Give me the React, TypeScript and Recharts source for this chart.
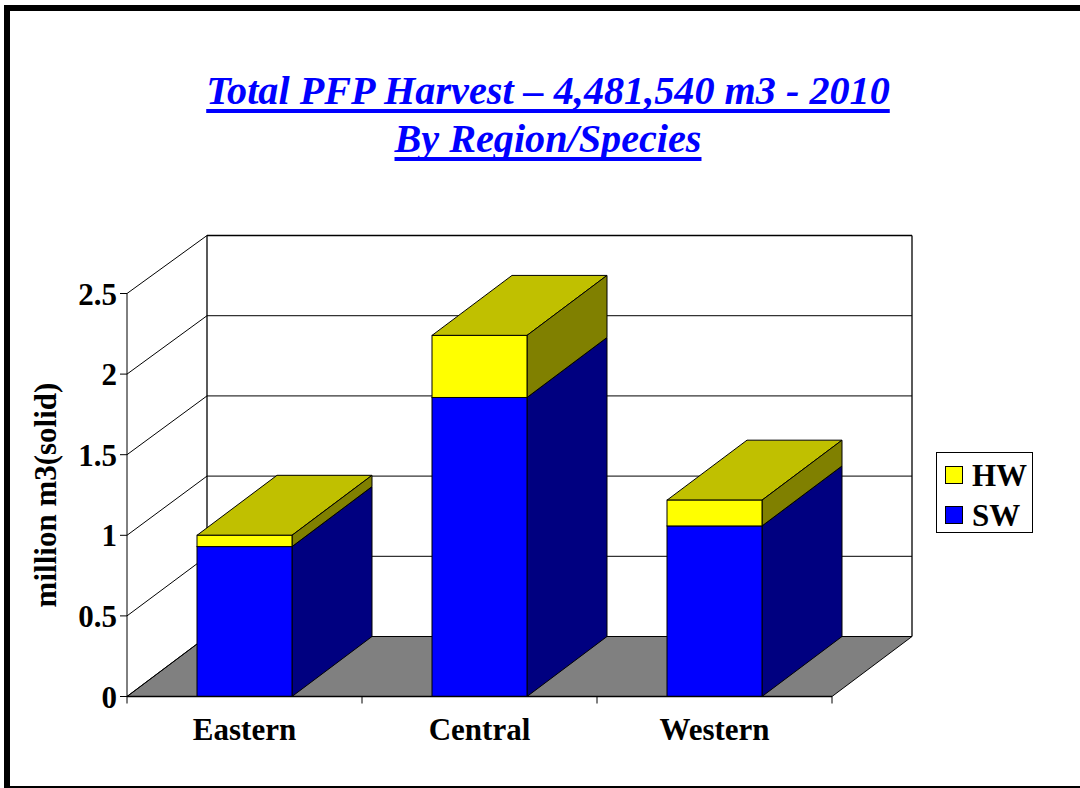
import React from "react";
import { BarChart, Bar, XAxis, YAxis, CartesianGrid, Legend } from "recharts";

const regions = ["Eastern", "Central", "Western"];
const swValues = [0.93, 1.855, 1.058];
const hwValues = [0.07, 0.385, 0.16];
const yTicks = [0, 0.5, 1, 1.5, 2, 2.5];

const data = regions.map((name, i) => ({ name, SW: swValues[i], HW: hwValues[i] }));

const FONT = "'Liberation Serif', 'Times New Roman', serif";
const DEPTH_X = 80;
const DEPTH_Y = 60;
const PLOT_TOP = 293.5;
const PLOT_BOTTOM = 696.5;
const BACK_SCALE = 0.995; // back wall is very slightly shorter than the front plane

// front + side + top faces of one stacked segment
function Box3D(props: any) {
  const { x, y, width: w, height: h, fill, sideFill, topFill } = props;
  const pts = (p: number[][]) => p.map((q) => q.join(",")).join(" ");
  return (
    <g stroke="#000" strokeWidth={1}>
      <polygon
        fill={topFill}
        points={pts([[x, y], [x + DEPTH_X, y - DEPTH_Y], [x + w + DEPTH_X, y - DEPTH_Y], [x + w, y]])}
      />
      <polygon
        fill={sideFill}
        points={pts([[x + w, y], [x + w + DEPTH_X, y - DEPTH_Y], [x + w + DEPTH_X, y + h - DEPTH_Y], [x + w, y + h]])}
      />
      <rect x={x} y={y} width={w} height={h} fill={fill} />
    </g>
  );
}

// each grid line becomes the wall line: oblique on the left wall, level on the back wall
function WallLine(props: any) {
  const { x1, x2, y1 } = props;
  const floorBack = PLOT_BOTTOM - DEPTH_Y;
  const backY = floorBack - (PLOT_BOTTOM - y1) * BACK_SCALE;
  const band = (x2 - x1) / regions.length;
  const isFloor = Math.abs(y1 - PLOT_BOTTOM) < 1;
  const isTop = Math.abs(y1 - PLOT_TOP) < 1;
  return (
    <g stroke="#000" strokeWidth={1} fill="none">
      {isFloor && (
        <>
          <polygon
            fill="#808080"
            points={`${x1},${y1} ${x1 + DEPTH_X},${backY} ${x2 + DEPTH_X},${backY} ${x2},${y1}`}
          />
          {regions.map((_, i) => (
            <line key={i} x1={x1 + band * (i + 1)} x2={x1 + band * (i + 1)} y1={y1} y2={y1 + 7} />
          ))}
          <line x1={x1} x2={x1} y1={y1} y2={y1 + 7} />
        </>
      )}
      <line x1={x1} y1={y1} x2={x1 + DEPTH_X} y2={backY} />
      <line x1={x1 + DEPTH_X} y1={backY} x2={x2 + DEPTH_X} y2={backY} strokeWidth={isTop ? 1.3 : 1} />
      {isTop && (
        <>
          <line x1={x1 + DEPTH_X} y1={backY} x2={x1 + DEPTH_X} y2={floorBack} strokeWidth={1.3} />
          <line x1={x2 + DEPTH_X} y1={backY} x2={x2 + DEPTH_X} y2={floorBack} strokeWidth={1.3} />
        </>
      )}
    </g>
  );
}

function LegendBox({ payload }: any) {
  const items = payload || [];
  return (
    <div
      style={{
        boxSizing: "border-box",
        width: 97,
        height: 81,
        border: "1px solid #000",
        background: "#fff",
        fontFamily: FONT,
        fontWeight: "bold",
        fontSize: 31,
        color: "#000",
      }}
    >
      {items.map((it: any, i: number) => (
        <div key={it.value} style={{ position: "absolute", left: 9, top: 6 + i * 40, height: 36, lineHeight: "36px" }}>
          <span
            style={{
              position: "absolute",
              left: 0,
              top: 8,
              width: 16,
              height: 16,
              background: it.color,
              border: "1px solid #000",
            }}
          />
          <span style={{ position: "absolute", left: 27, top: 0 }}>{it.value}</span>
        </div>
      ))}
    </div>
  );
}

const titleStyle: React.CSSProperties = {
  position: "absolute",
  left: 148,
  width: 800,
  textAlign: "center",
  fontFamily: FONT,
  fontSize: 40.2,
  fontWeight: "bold",
  fontStyle: "italic",
  textDecoration: "underline",
  textDecorationThickness: 4,
  textDecorationSkipInk: "none",
  textUnderlineOffset: 5,
  color: "#0000ff",
  lineHeight: "48px",
  whiteSpace: "nowrap",
};

export default function App() {
  return (
    <div style={{ position: "absolute", left: 0, top: 0, width: 1080, height: 788, overflow: "hidden", background: "#fff" }}>
      <div
        style={{
          position: "absolute",
          left: 4,
          top: 5,
          width: 1200,
          height: 775,
          border: "6px solid #000",
        }}
      />
      <div style={{ ...titleStyle, top: 67 }}>Total PFP Harvest – 4,481,540 m3 - 2010</div>
      <div style={{ ...titleStyle, top: 115 }}>By Region/Species</div>
      <BarChart
        width={1080}
        height={788}
        data={data}
        barSize={95}
        margin={{ top: PLOT_TOP, right: 248, bottom: 31.5, left: 0 }}
        style={{ position: "absolute", left: 0, top: 0 }}
      >
        <CartesianGrid vertical={false} horizontal={(p: any) => <WallLine key={p.index} {...p} />} />
        <XAxis
          dataKey="name"
          height={60}
          interval={0}
          axisLine={{ stroke: "#000", strokeWidth: 1.3 }}
          tickLine={false}
          tickMargin={15}
          tick={{ fill: "#000", fontFamily: FONT, fontWeight: "bold", fontSize: 31 }}
        />
        <YAxis
          width={127}
          domain={[0, 2.5]}
          ticks={yTicks}
          interval={0}
          tickSize={7}
          tickMargin={3}
          axisLine={{ stroke: "#000" }}
          tickLine={{ stroke: "#000" }}
          tick={{ fill: "#000", fontFamily: FONT, fontWeight: "bold", fontSize: 31 }}
          label={{
            value: "million m3(solid)",
            angle: -90,
            position: "insideLeft",
            offset: 0,
            dx: 45,
            style: { textAnchor: "middle", fill: "#000", fontFamily: FONT, fontWeight: "bold", fontSize: 31 },
          }}
        />
        <Legend
          layout="vertical"
          align="center"
          verticalAlign="middle"
          wrapperStyle={{ position: "absolute", left: 936, top: 452, width: 97, height: 81 }}
          content={(p: any) => <LegendBox payload={p.payload} />}
        />
        <Bar
          dataKey="SW"
          stackId="a"
          fill="#0000ff"
          isAnimationActive={false}
          shape={(p: any) => <Box3D {...p} fill="#0000ff" sideFill="#000080" topFill="#0000c0" />}
        />
        <Bar
          dataKey="HW"
          stackId="a"
          fill="#ffff00"
          isAnimationActive={false}
          shape={(p: any) => <Box3D {...p} fill="#ffff00" sideFill="#808000" topFill="#c0c000" />}
        />
      </BarChart>
    </div>
  );
}
